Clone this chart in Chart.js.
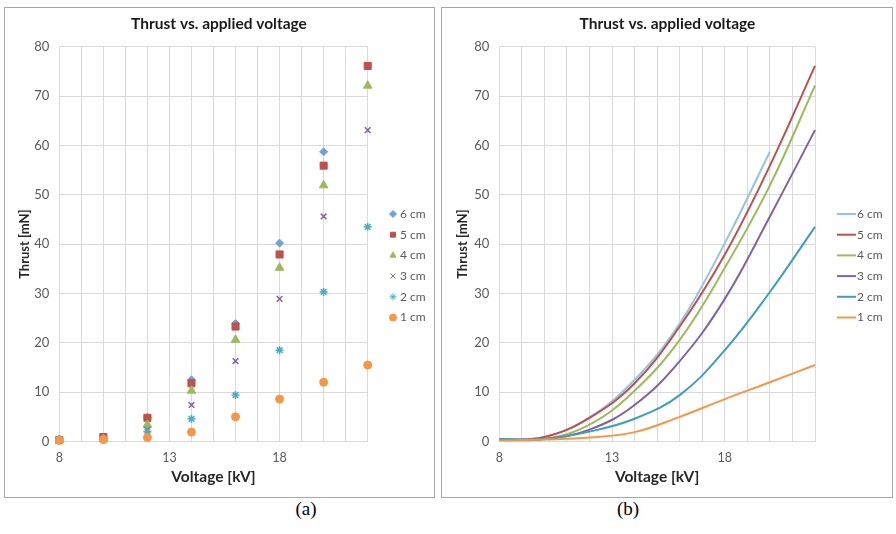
<!DOCTYPE html>
<html>
<head>
<meta charset="utf-8">
<script src="https://cdn.jsdelivr.net/npm/chart.js@4.4.1/dist/chart.umd.min.js"></script>
<style>
    body { margin: 0; background: #fff; width: 896px; height: 534px; position: relative; overflow: hidden; }
    .frame { position: absolute; border: 1px solid #a6a6a6; box-sizing: border-box; }
    canvas { position: absolute; }
    .caption { position: absolute; width: 60px; text-align: center; font-family: "Liberation Serif", "Times New Roman", serif; font-size: 19px; line-height: 19px; color: #000; }
</style>
</head>
<body>
<div class="frame" style="left:4px;top:7px;width:431px;height:491px"></div>
<canvas id="chart-a" width="430" height="490" style="left:4px;top:7px"></canvas>
<div class="frame" style="left:441px;top:7px;width:452px;height:491px"></div>
<canvas id="chart-b" width="451" height="490" style="left:442px;top:7px"></canvas>
<div class="caption" style="left:276px;top:499px">(a)</div>
<div class="caption" style="left:598px;top:499px">(b)</div>

<script>
// applied voltage [kV]
const voltages = [8, 10, 12, 14, 16, 18, 20, 22];
// thrust [mN] per electrode gap
const thrust6cm = [0.5, 0.9, 4.9, 12.5, 23.9, 40.2, 58.7];
const thrust5cm = [0.3, 0.9, 4.8, 11.8, 23.3, 37.9, 55.9, 76.1];
const thrust4cm = [0.3, 0.5, 3.4, 10.3, 20.6, 35.2, 51.9, 72.1];
const thrust3cm = [0.3, 0.5, 2.4, 7.4, 16.3, 28.9, 45.6, 63.1];
const thrust2cm = [0.5, 0.5, 2.0, 4.6, 9.4, 18.5, 30.3, 43.5];
const thrust1cm = [0.2, 0.4, 0.8, 1.9, 5.0, 8.6, 12.0, 15.5];

const seriesLabels = ['6 cm', '5 cm', '4 cm', '3 cm', '2 cm', '1 cm'];
const seriesValues = [thrust6cm, thrust5cm, thrust4cm, thrust3cm, thrust2cm, thrust1cm];

const xTickLabels = [8, 13, 18];
const yTicks = [0, 10, 20, 30, 40, 50, 60, 70, 80];

const FONT = 'Lato, "Open Sans", sans-serif';
const GRID = '#d9d9d9';

const markerColors = ['#6FA3D6', '#C0504D', '#9BBB59', '#8064A2', '#4BACC6', '#F79646'];
const markerStyles = ['rectRot', 'rect', 'triangle', 'crossRot', 'star', 'circle'];
const markerSizes = [4, 5, 5, 4, 4, 4];
const lineColors = ['#92C5DE', '#C0504D', '#9BBB59', '#8064A2', '#3E9EBF', '#F79646'];

function toPoints(values) {
    return values.map((v, i) => ({ x: voltages[i], y: v }));
}

const sideLegend = {
    id: 'sideLegend',
    afterDraw(chart, args, opts) {
        const ctx = chart.ctx;
        ctx.save();
        ctx.font = '12px ' + FONT;
        ctx.textBaseline = 'middle';
        chart.data.datasets.forEach((ds, i) => {
            const y = opts.top + i * opts.step;
            if (opts.lines) {
                ctx.strokeStyle = ds.borderColor;
                ctx.lineWidth = 2;
                ctx.beginPath();
                ctx.moveTo(opts.x, y);
                ctx.lineTo(opts.x + 19, y);
                ctx.stroke();
            } else {
                ctx.fillStyle = ds.backgroundColor;
                ctx.strokeStyle = ds.borderColor;
                ctx.lineWidth = 1;
                Chart.helpers.drawPoint(ctx, { pointStyle: ds.pointStyle, radius: 3.5, borderWidth: 1 }, opts.x, y);
            }
            ctx.fillStyle = '#595959';
            ctx.fillText(ds.label, opts.textX, y);
        });
        ctx.restore();
    }
};

function buildOptions(yAxisWidth, legendOpts, rightPad) {
    return {
        responsive: false,
        animation: false,
        layout: { padding: 0 },
        scales: {
            x: {
                type: 'linear',
                min: 8,
                max: 22,
                afterFit: (scale) => { scale.height = 55.5; },
                ticks: {
                    stepSize: 1,
                    autoSkip: false,
                    maxRotation: 0,
                    padding: 9,
                    color: '#595959',
                    font: { family: FONT, size: 12.5 },
                    callback: (v) => xTickLabels.includes(v) ? String(v) : ''
                },
                grid: { color: GRID, drawTicks: false },
                border: { color: GRID },
                title: {
                    display: true,
                    text: 'Voltage [kV]',
                    color: '#262626',
                    font: { family: FONT, size: 15.5, weight: 'bold' },
                    padding: { top: 0, bottom: 10.5 }
                }
            },
            y: {
                min: 0,
                max: 80,
                afterFit: (scale) => { scale.width = yAxisWidth; },
                afterBuildTicks: (scale) => { scale.ticks = yTicks.map(v => ({ value: v })); },
                ticks: {
                    padding: 10,
                    color: '#595959',
                    font: { family: FONT, size: 13 }
                },
                grid: { color: GRID, drawTicks: false },
                border: { color: GRID },
                title: {
                    display: true,
                    text: 'Thrust [mN]',
                    color: '#262626',
                    font: { family: FONT, size: 13, weight: 'bold' },
                    padding: { top: 13, bottom: 0 }
                }
            },
            // empty axis that reserves the room where the legend sits
            legendRoom: {
                type: 'linear',
                position: 'right',
                afterFit: (scale) => { scale.width = rightPad; },
                ticks: { display: false },
                grid: { display: false, drawTicks: false },
                border: { display: false }
            }
        },
        plugins: {
            legend: { display: false },
            tooltip: { enabled: false },
            title: {
                display: true,
                text: 'Thrust vs. applied voltage',
                color: '#1a1a1a',
                font: { family: FONT, size: 15.5, weight: 'bold' },
                padding: { top: 7.5, bottom: 13.6 }
            },
            sideLegend: legendOpts
        }
    };
}

// (a) measured points
new Chart(document.getElementById('chart-a').getContext('2d'), {
    type: 'scatter',
    data: {
        datasets: seriesLabels.map((label, i) => ({
            label: label,
            data: toPoints(seriesValues[i]),
            showLine: false,
            clip: false,
            order: 6 - i,
            pointStyle: markerStyles[i],
            pointRadius: markerSizes[i],
            pointBorderWidth: (markerStyles[i] === 'crossRot' || markerStyles[i] === 'star') ? 1.5 : 1,
            backgroundColor: markerColors[i],
            borderColor: markerColors[i]
        }))
    },
    options: buildOptions(55.3, { x: 389, textX: 396, top: 207, step: 20.7, lines: false }, 66.3),
    plugins: [sideLegend]
});

// (b) smoothed curves
new Chart(document.getElementById('chart-b').getContext('2d'), {
    type: 'line',
    data: {
        datasets: seriesLabels.map((label, i) => ({
            label: label,
            data: toPoints(seriesValues[i]),
            clip: false,
            order: 6 - i,
            tension: 0.4,
            pointRadius: 0,
            borderWidth: 2,
            fill: false,
            backgroundColor: lineColors[i],
            borderColor: lineColors[i]
        }))
    },
    options: buildOptions(57.3, { x: 395, textX: 415, top: 207, step: 20.7, lines: true }, 78),
    plugins: [sideLegend]
});
</script>
</body>
</html>
